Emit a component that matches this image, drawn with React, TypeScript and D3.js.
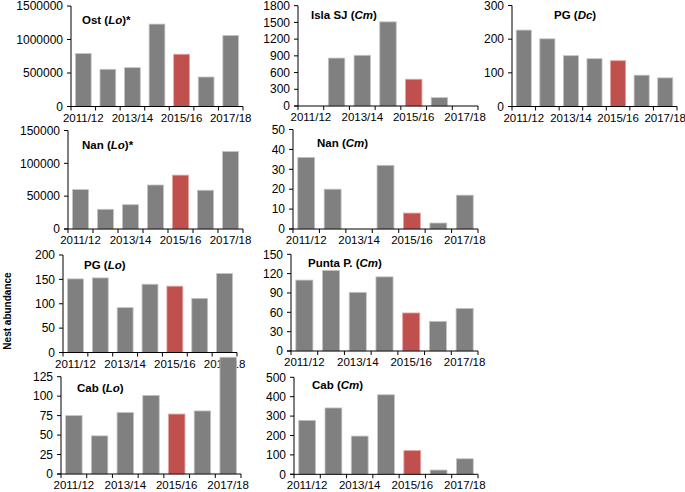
import React from "react";
import * as d3 from "d3";

const categories = ["2011/12", "2012/13", "2013/14", "2014/15", "2015/16", "2016/17", "2017/18"];
const shownLabels = ["2011/12", "2013/14", "2015/16", "2017/18"];
const highlight = "2015/16";

const ostLo = [790000, 555000, 580000, 1230000, 780000, 440000, 1060000];
const islaSJCm = [0, 860, 910, 1510, 480, 150, 0];
const pgDc = [227, 201, 151, 142, 136, 93, 85];
const nanLo = [60000, 30000, 37000, 67000, 82000, 59000, 118000];
const nanCm = [36, 20, 0, 32, 8, 3, 17];
const pgLo = [151, 153, 92, 140, 136, 111, 162];
const puntaCm = [110, 125, 91, 115, 59, 46, 66];
const cabLo = [75, 49, 79, 101, 77, 81, 150];
const cabCm = [278, 342, 197, 410, 122, 22, 80];

type Panel = {
  name: string; code: string; suffix: string; values: number[];
  max: number; step: number;
  x0: number; x1: number; yTop: number; yBot: number;
  tx: number; ty: number;
};

const panels: Panel[] = [
  { name: "Ost", code: "Lo", suffix: "*", values: ostLo, max: 1500000, step: 500000, x0: 71, x1: 243, yTop: 6, yBot: 106.5, tx: 82, ty: 20 },
  { name: "Isla SJ", code: "Cm", suffix: "", values: islaSJCm, max: 1800, step: 300, x0: 298, x1: 478, yTop: 5.7, yBot: 106, tx: 311, ty: 15 },
  { name: "PG", code: "Dc", suffix: "", values: pgDc, max: 300, step: 100, x0: 512, x1: 677, yTop: 5.5, yBot: 106.5, tx: 554, ty: 15 },
  { name: "Nan", code: "Lo", suffix: "*", values: nanLo, max: 150000, step: 50000, x0: 68, x1: 243, yTop: 130.5, yBot: 229, tx: 82, ty: 145 },
  { name: "Nan", code: "Cm", suffix: "", values: nanCm, max: 50, step: 10, x0: 293, x1: 478, yTop: 129.5, yBot: 229, tx: 317, ty: 143 },
  { name: "PG", code: "Lo", suffix: "", values: pgLo, max: 200, step: 50, x0: 63, x1: 237, yTop: 255, yBot: 352.5, tx: 84, ty: 265 },
  { name: "Punta P.", code: "Cm", suffix: "", values: puntaCm, max: 150, step: 30, x0: 291, x1: 478, yTop: 254.3, yBot: 351, tx: 308, ty: 263 },
  { name: "Cab", code: "Lo", suffix: "", values: cabLo, max: 125, step: 25, x0: 61, x1: 241, yTop: 376.7, yBot: 474, tx: 77, ty: 388 },
  { name: "Cab", code: "Cm", suffix: "", values: cabCm, max: 500, step: 100, x0: 294, x1: 478, yTop: 377.3, yBot: 474.3, tx: 312, ty: 385 },
];

const FONT = "Liberation Sans, Arial, sans-serif";

function PanelChart({ p }: { p: Panel }) {
  const x = d3.scaleBand<string>().domain(categories).range([p.x0, p.x1]).paddingInner(0.36).paddingOuter(0.18);
  const y = d3.scaleLinear().domain([0, p.max]).range([p.yBot, p.yTop]);
  const yTicks = d3.range(0, p.max + p.step / 2, p.step);
  const stepW = (p.x1 - p.x0) / categories.length;
  const boundaries = d3.range(0, categories.length + 1).map((i) => p.x0 + i * stepW);
  return (
    <g>
      {p.values.map((v, i) => {
        if (v <= 0) return null;
        const c = categories[i];
        const red = c === highlight;
        return (
          <rect key={i} x={x(c)!} width={x.bandwidth()} y={y(v)} height={p.yBot - y(v)}
            fill={red ? "#c0504d" : "#808080"} stroke={red ? "#e3a3a1" : "#c4c4c4"} strokeWidth={0.8} />
        );
      })}
      <line x1={p.x0} x2={p.x0} y1={p.yTop} y2={p.yBot} stroke="#000" strokeWidth={1} />
      <line x1={p.x0 - 4} x2={p.x1} y1={p.yBot} y2={p.yBot} stroke="#000" strokeWidth={1} />
      {yTicks.map((t) => (
        <g key={t}>
          <line x1={p.x0 - 4} x2={p.x0} y1={y(t)} y2={y(t)} stroke="#000" strokeWidth={1} />
          <text x={p.x0 - 8} y={y(t)} dy="0.35em" textAnchor="end" fontSize={12} fontFamily={FONT} fill="#000">{t}</text>
        </g>
      ))}
      {boundaries.map((bx, i) => (
        <line key={i} x1={bx} x2={bx} y1={p.yBot} y2={p.yBot + 4} stroke="#000" strokeWidth={1} />
      ))}
      {shownLabels.map((c) => (
        <text key={c} x={x(c)! + x.bandwidth() / 2} y={p.yBot + 15} textAnchor="middle" fontSize={11.5} fontFamily={FONT} fill="#000">{c}</text>
      ))}
    </g>
  );
}

function Title({ p }: { p: Panel }) {
  return (
    <text x={p.tx} y={p.ty} dy="0.35em" fontSize={11.5} fontWeight="bold" fontFamily={FONT} fill="#000">
      {p.name} (<tspan fontStyle="italic">{p.code}</tspan>){p.suffix}
    </text>
  );
}

export default function App() {
  return (
    <svg width={685} height={492} style={{ position: "absolute", left: 0, top: 0, background: "#fff" }}>
      <rect width={685} height={492} fill="#fff" />
      {panels.map((p, i) => (
        <g key={i}>
          <PanelChart p={p} />
          <Title p={p} />
        </g>
      ))}
      <text transform="translate(11,311) rotate(-90)" textAnchor="middle" fontSize={10} fontWeight="bold" fontFamily={FONT} fill="#000">Nest abundance</text>
    </svg>
  );
}
